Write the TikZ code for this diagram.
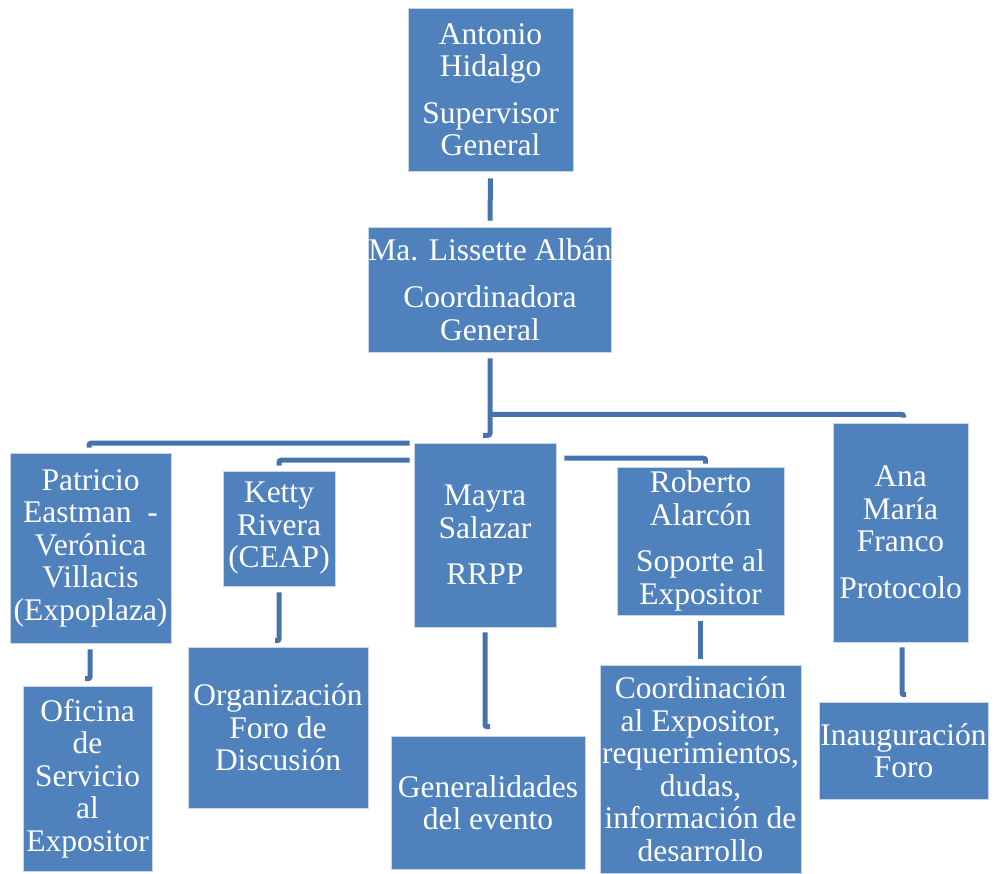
\documentclass[tikz,border=0pt]{standalone}
\usepackage{fontspec}
\setmainfont{Liberation Serif}
\usetikzlibrary{calc}

\definecolor{boxF}{HTML}{4F81BD}
\definecolor{boxE}{HTML}{C9D6E8}
\definecolor{connC}{HTML}{4673AC}

\begin{document}
\begin{tikzpicture}[x=1pt, y=-1pt,
  orgbox/.style n args={2}{fill=boxF, draw=boxE, line width=0.6pt,
                      minimum width=#1, minimum height=#2, align=center,
                      inner sep=0pt, text=white,
                      font=\fontsize{31.5}{32.5}\selectfont},
  conn/.style={draw=connC, line width=5pt, rounded corners=2pt},
]
\useasboundingbox (0,0) rectangle (994,874);

% top levels
\node[orgbox={165pt}{163pt}] (sup) at (490.5,89.5)
  {Antonio\\Hidalgo\\[14pt]Supervisor\\General};
\node[orgbox={242pt}{125pt}] (coord) at (490,289.5)
  {Ma. Lissette Albán\\[15pt]Coordinadora\\General};

% --- second row ---
\node[orgbox={161pt}{190pt}] (patricio) at (90.5,548)
  {Patricio\\Eastman\ \ -\\Verónica\\Villacis\\(Expoplaza)};
\node[orgbox={112pt}{115pt}] (ketty) at (279,528.5)
  {Ketty\\Rivera\\(CEAP)};
\node[orgbox={142pt}{184pt}] (mayra) at (485,535)
  {Mayra\\Salazar\\[14pt]RRPP};
\node[orgbox={167pt}{148pt}] (roberto) at (700.5,541)
  {Roberto\\Alarcón\\[14pt]Soporte al\\Expositor};
\node[orgbox={135pt}{219pt}] (ana) at (900.5,532.5)
  {Ana\\María\\Franco\\[14pt]Protocolo};

% --- third row ---
\node[orgbox={129pt}{185pt}] (oficina) at (87.5,778.5)
  {Oficina\\de\\Servicio\\al\\Expositor};
\node[orgbox={180pt}{161pt}] (foro) at (278,727.5)
  {Organización\\Foro de\\Discusión};
\node[orgbox={194pt}{133pt}] (generalidades) at (488,802.5)
  {Generalidades\\del evento};
\node[orgbox={201pt}{208pt}] (coordexp) at (700.5,769)
  {Coordinación\\al Expositor,\\requerimientos,\\dudas,\\información de\\desarrollo};
\node[orgbox={169pt}{97pt}] (inaug) at (903.5,750.5)
  {Inauguración\\Foro};

% connectors
\draw[conn] ($(sup.south)+(0,7)$) -- ($(coord.north)+(0,-6)$);
\draw[conn] ($(coord.south)+(0,6)$) -- ($(coord.south)+(0,83)$) -- ++(-7,0);
\draw[conn] ($(coord.south)+(0,62)$) -| ($(ana.north)+(3,-5)$);
\draw[conn] ($(mayra.north west)+(-4,0.5)$) -| ($(patricio.north)+(-1.5,-5)$);
\draw[conn] ($(mayra.north west)+(-4,17.5)$) -| ($(ketty.north)+(0,-5)$);
\draw[conn] ($(mayra.north east)+(8,15.5)$) -| ($(roberto.north)+(5,-3)$);

\draw[conn] ($(patricio.south)+(-0.5,6)$) -- ($(oficina.north)+(2.5,-7)$) -- ++(-5,0);
\draw[conn] ($(ketty.south)+(0,6)$) -- ($(foro.north)+(1,-6)$) -- ++(-4,0);
\draw[conn] ($(mayra.south)+(0,5)$) -- ($(generalidades.north)+(-3,-9)$) -- ++(5,0);
\draw[conn] ($(roberto.south)+(0,6)$) -- ($(coordexp.north)+(0,-6)$);
\draw[conn] ($(ana.south)+(1.5,5)$) -- ($(inaug.north)+(-1.5,-7)$) -- ++(4,0);
\end{tikzpicture}
\end{document}
